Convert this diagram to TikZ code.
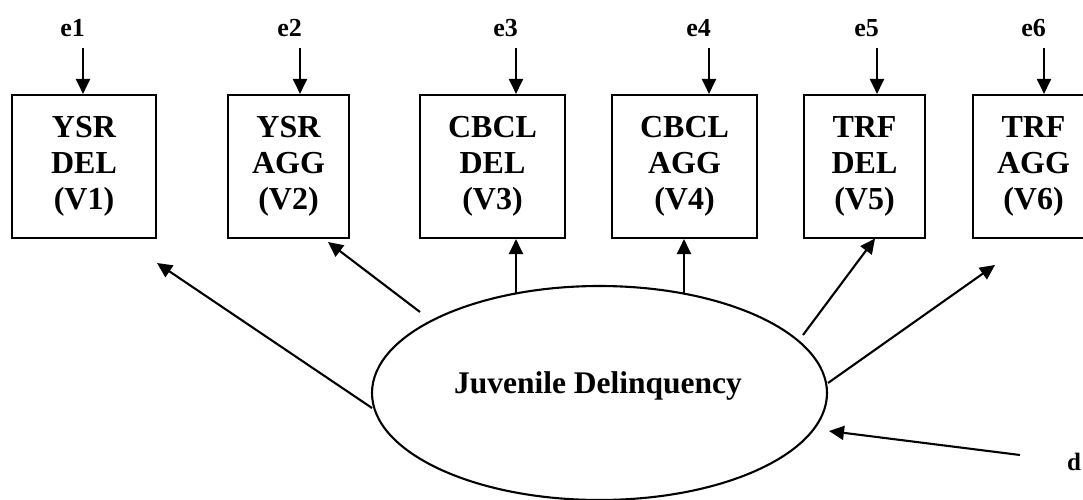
\documentclass[tikz,border=0pt]{standalone}
\usepackage{fontspec}
\setmainfont{Liberation Serif}
\usetikzlibrary{arrows.meta,shapes.geometric}

\tikzset{
  conn/.style={line width=2.1pt, -{Triangle[length=15pt,width=14pt]}},
  obsbox/.style={draw, line width=2.1pt, minimum height=143pt, inner sep=0pt,
                 align=center, font=\bfseries\fontsize{32}{36}\selectfont},
  errlabel/.style={anchor=base east, inner sep=0pt, font=\bfseries\fontsize{26}{30}\selectfont},
  latent/.style={draw, ellipse, line width=2.1pt, inner sep=0pt,
                 minimum width=455pt, minimum height=214pt},
}

\begin{document}
\begin{tikzpicture}[x=1pt, y=-1pt]
\useasboundingbox (0,0) rectangle (1083,500);
\clip (0,0) rectangle (1083,500);

% observed indicators
\node[obsbox, minimum width=144pt] (b1) at (84,166.5)    {YSR\\DEL\\(V1)};
\node[obsbox, minimum width=121pt] (b2) at (288.5,166.5) {YSR\\AGG\\(V2)};
\node[obsbox, minimum width=145pt] (b3) at (492.5,166.5) {CBCL\\DEL\\(V3)};
\node[obsbox, minimum width=145pt] (b4) at (684.5,166.5) {CBCL\\AGG\\(V4)};
\node[obsbox, minimum width=121pt] (b5) at (864.5,166.5) {TRF\\DEL\\(V5)};
\node[obsbox, minimum width=121pt] (b6) at (1033.5,166.5) {TRF\\AGG\\(V6)};

% error terms
\foreach \i/\x in {1/83, 2/300, 3/516, 4/709, 5/877, 6/1044} {
  \node[errlabel] (e\i) at (\x+2,37) {e\i};
  \coordinate (s\i) at (\x,48);
  \draw[conn] (s\i) -- (s\i |- b\i.north);
}

% latent factor
\node[latent] (jd) at (599.5,393) {};
\node[anchor=base, inner sep=0pt, font=\bfseries\fontsize{31.5}{36}\selectfont]
  (jdtext) at (598,393) {Juvenile Delinquency};

% loadings
\coordinate (o1) at (372,408);  \coordinate (t1) at (157,263);
\coordinate (o2) at (420,312);  \coordinate (t2) at (328,242);
\coordinate (o3) at (516,293);
\coordinate (o4) at (684,293);
\coordinate (o5) at (803,335);  \coordinate (t5) at (875,238.5);
\coordinate (o6) at (828,383);  \coordinate (t6) at (995,265);
\draw[conn] (o1) -- (t1);
\draw[conn] (o2) -- (t2);
\draw[conn] (o3) -- (o3 |- b3.south);
\draw[conn] (o4) -- (o4 |- b4.south);
\draw[conn] (o5) -- (t5);
\draw[conn] (o6) -- (t6);

% disturbance
\node[anchor=base west, inner sep=0pt, font=\bfseries\fontsize{25}{30}\selectfont]
  (d) at (1067,470) {d};
\coordinate (od) at (1020,455);
\coordinate (td) at (829,431);
\draw[conn] (od) -- (td);
\end{tikzpicture}
\end{document}
